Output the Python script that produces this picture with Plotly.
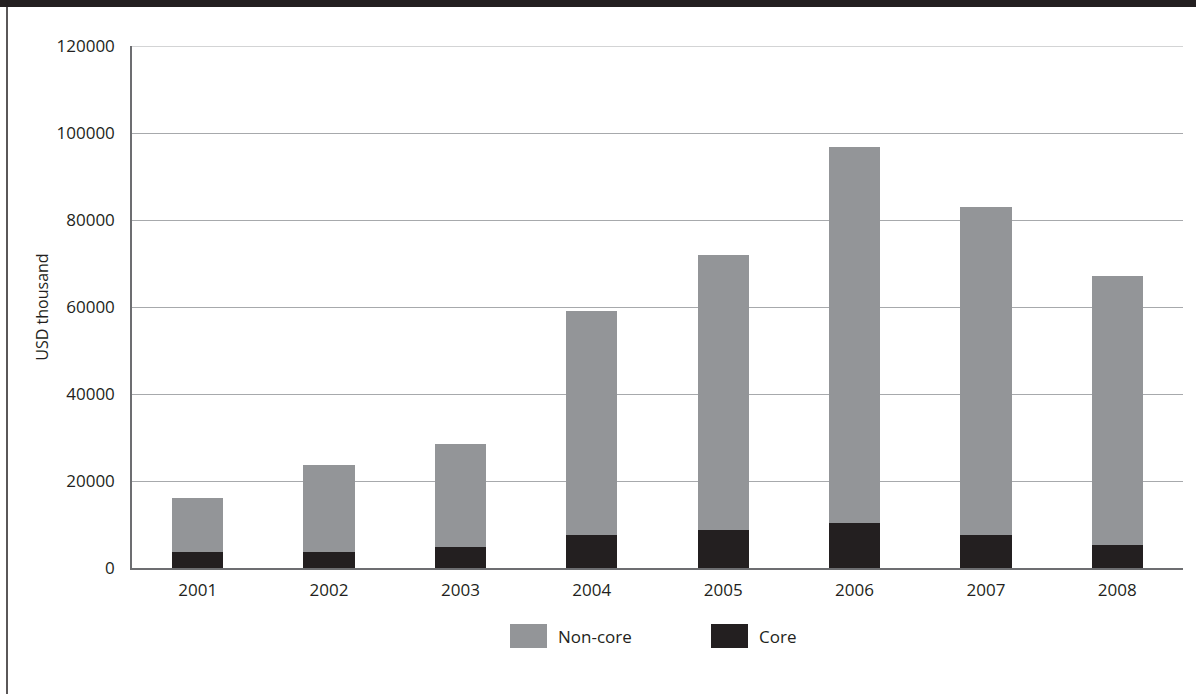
import plotly.graph_objects as go

years = ["2001", "2002", "2003", "2004", "2005", "2006", "2007", "2008"]
core = [3600, 3600, 4800, 7700, 8700, 10300, 7500, 5200]
non_core = [12600, 20000, 23600, 51400, 63200, 86400, 75600, 61900]
y_ticks = [0, 20000, 40000, 60000, 80000, 100000, 120000]

GRAY = "#939598"
BLACK = "#231f20"
GRID = "#a7a9ac"
FONT = "Open Sans"

W, H = 1196, 694
L, R, T, B = 132, 13, 46, 126
pw, ph = W - L - R, H - T - B


def px(x):
    return (x - L) / pw


def py(y):
    return (H - B - y) / ph


fig = go.Figure()
fig.add_trace(go.Bar(x=years, y=core, name="Core", marker=dict(color=BLACK, line=dict(width=0)),
                     showlegend=False))
fig.add_trace(go.Bar(x=years, y=non_core, name="Non-core", marker=dict(color=GRAY, line=dict(width=0)),
                     showlegend=False))

shapes = [
    # top dark band
    dict(type="rect", xref="paper", yref="paper", x0=px(0), x1=px(W), y0=py(7), y1=py(0),
         fillcolor=BLACK, line=dict(width=0), layer="above"),
    # left border
    dict(type="line", xref="paper", yref="paper", x0=px(7), x1=px(7), y0=py(H), y1=py(0),
         line=dict(color=BLACK, width=1.5)),
    # top gridline at the axis maximum
    dict(type="line", xref="paper", yref="y", x0=0, x1=1, y0=y_ticks[-1], y1=y_ticks[-1],
         line=dict(color=GRID, width=1), layer="below"),
    # legend swatches
    dict(type="rect", xref="paper", yref="paper", x0=px(510), x1=px(547), y0=py(648), y1=py(624),
         fillcolor=GRAY, line=dict(width=0)),
    dict(type="rect", xref="paper", yref="paper", x0=px(711), x1=px(748), y0=py(648), y1=py(624),
         fillcolor=BLACK, line=dict(width=0)),
]
annotations = [
    dict(xref="paper", yref="paper", x=px(556), y=py(636), text="Non-core", showarrow=False,
         xanchor="left", yanchor="middle", font=dict(family=FONT, size=17, color=BLACK)),
    dict(xref="paper", yref="paper", x=px(757), y=py(636), text="Core", showarrow=False,
         xanchor="left", yanchor="middle", font=dict(family=FONT, size=17, color=BLACK)),
]

fig.update_layout(
    width=W, height=H,
    margin=dict(l=L, r=R, t=T, b=B),
    barmode="stack",
    bargap=0.61,
    paper_bgcolor="white",
    plot_bgcolor="white",
    font=dict(family=FONT, size=17, color=BLACK),
    shapes=shapes,
    annotations=annotations,
    showlegend=False,
)
fig.update_xaxes(
    type="category",
    showline=True, linecolor="#6d6e71", linewidth=2,
    ticks="", showgrid=False,
    tickfont=dict(family=FONT, size=17, color=BLACK),
    ticklabelstandoff=6,
)
fig.update_yaxes(
    range=[0, 120000],
    tickvals=y_ticks,
    ticktext=[str(v) for v in y_ticks],
    showline=True, linecolor="#6d6e71", linewidth=1.5,
    showgrid=True, gridcolor=GRID, gridwidth=1,
    zeroline=False,
    ticks="",
    tickfont=dict(family=FONT, size=17, color=BLACK),
    ticklabelstandoff=12,
    title=dict(text="USD thousand", font=dict(family=FONT, size=16, color=BLACK), standoff=4),
)

fig.write_html("out.html", config={"displayModeBar": False},
               post_script="document.body.style.margin='0';document.body.style.padding='0';")
